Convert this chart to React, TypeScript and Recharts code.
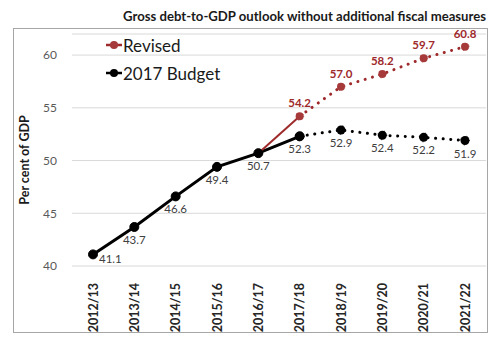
import React from 'react';
import { LineChart, Line, XAxis, YAxis, CartesianGrid, Legend, LabelList } from 'recharts';

const categories = ['2012/13', '2013/14', '2014/15', '2015/16', '2016/17', '2017/18', '2018/19', '2019/20', '2020/21', '2021/22'];
const budget = [41.1, 43.7, 46.6, 49.4, 50.7, 52.3, 52.9, 52.4, 52.2, 51.9];
const revised: (number | null)[] = [null, null, null, null, 50.7, 54.2, 57.0, 58.2, 59.7, 60.8];
const yTicks = [40, 45, 50, 55, 60];
const lastActual = 4; // 2016/17
const lastSolid = 5; // 2017/18

const RED = '#9E2A2B';
const RED_DOT = '#A63A3A';
const FONT = 'Lato, "Open Sans", sans-serif';

const data = categories.map((cat, i) => ({
  cat,
  bSolid: i <= lastSolid ? budget[i] : null,
  bDot: i >= lastSolid ? budget[i] : null,
  rSolid: i >= lastActual && i <= lastSolid ? revised[i] : null,
  rDot: i >= lastSolid ? revised[i] : null,
}));

const budgetLabel = (skip: number) => (props: any) => {
  const { x, y, value, index } = props;
  if (value == null || index === skip) return null;
  const first = index === 0;
  return (
    <text
      x={first ? x + 6 : x}
      y={first ? y + 9 : y + 17}
      textAnchor={first ? 'start' : 'middle'}
      fontSize={11.5}
      fontFamily={FONT}
      fill="#404040"
    >
      {Number(value).toFixed(1)}
    </text>
  );
};

const revisedLabel = (props: any) => {
  const { x, y, value } = props;
  if (value == null) return null;
  return (
    <text x={x} y={y - 9} textAnchor="middle" fontSize={11.5} fontWeight="bold" fontFamily={FONT} fill={RED}>
      {Number(value).toFixed(1)}
    </text>
  );
};

const XTick = (props: any) => {
  const { x, y, payload } = props;
  return (
    <text
      x={x}
      y={y}
      transform={`rotate(-90, ${x}, ${y})`}
      textAnchor="end"
      dominantBaseline="central"
      dx={-9}
      fontSize={12.5}
      fontWeight="bold"
      fontFamily={FONT}
      fill="#262626"
    >
      {payload.value}
    </text>
  );
};

const LegendContent = () => {
  const items = [
    { name: 'Revised', color: RED, dot: RED_DOT },
    { name: '2017 Budget', color: '#000', dot: '#000' },
  ];
  return (
    <div style={{ fontFamily: FONT }}>
      {items.map((it) => (
        <div key={it.name} style={{ display: 'flex', alignItems: 'center', height: 28 }}>
          <svg width={16} height={10} style={{ marginRight: 1 }}>
            <line x1={0} y1={5} x2={16} y2={5} stroke={it.color} strokeWidth={2.5} />
            <circle cx={8} cy={5} r={4} fill={it.dot} />
          </svg>
          <span style={{ fontSize: 17, color: '#1a1a1a' }}>{it.name}</span>
        </div>
      ))}
    </div>
  );
};

export default function App() {
  return (
    <div style={{ position: 'absolute', left: 0, top: 0, width: 500, height: 339, background: '#fff' }}>
      <div
        style={{
          position: 'absolute',
          left: 13,
          top: 28,
          width: 475,
          height: 305,
          border: '1px solid #A6A6A6',
          boxSizing: 'border-box',
        }}
      />
      <LineChart width={500} height={339} data={data} margin={{ top: 34, right: 14, bottom: 8, left: 0 }}>
        <text x={486} y={21} textAnchor="end" fontSize={12.5} fontWeight="bold" fontFamily={FONT} fill="#1a1a1a" textLength={363} lengthAdjust="spacingAndGlyphs">
          Gross debt-to-GDP outlook without additional fiscal measures
        </text>
        <CartesianGrid vertical={false} stroke="#D9D9D9" strokeWidth={1} />
        <XAxis dataKey="cat" interval={0} height={65} tick={<XTick />} tickLine={false} axisLine={false} padding={{ left: 21, right: 21 }} />
        <YAxis
          domain={[40, 62]}
          ticks={yTicks}
          width={72}
          tickLine={false}
          axisLine={false}
          tickSize={0}
          tickMargin={15}
          tick={{ fontSize: 12, fill: '#595959', fontFamily: FONT }}
          label={(p: any) => (
            <text x={24} y={160} transform="rotate(-90, 24, 160)" textAnchor="middle" dominantBaseline="central" fontSize={12.5} fontWeight="bold" fontFamily={FONT} fill="#1a1a1a">
              Per cent of GDP
            </text>
          )}
        />
        <Legend
          content={<LegendContent />}
          layout="vertical"
          verticalAlign="middle"
          align="center"
          wrapperStyle={{ position: 'absolute', left: 106, top: 31, width: 160 }}
        />
        <Line
          dataKey="bDot"
          stroke="#000"
          strokeWidth={3}
          strokeDasharray="0.1 7.5"
          strokeLinecap="round"
          dot={{ r: 4.5, fill: '#000', stroke: '#000', strokeWidth: 1 }}
          activeDot={false}
          isAnimationActive={false}
          connectNulls={false}
          legendType="none"
        >
          <LabelList dataKey="bDot" content={budgetLabel(lastSolid)} />
        </Line>
        <Line
          dataKey="bSolid"
          stroke="#000"
          strokeWidth={3}
          dot={{ r: 4.5, fill: '#000', stroke: '#000', strokeWidth: 1 }}
          activeDot={false}
          isAnimationActive={false}
          legendType="none"
        >
          <LabelList dataKey="bSolid" content={budgetLabel(-1)} />
        </Line>
        <Line
          dataKey="rSolid"
          stroke={RED}
          strokeWidth={2}
          dot={false}
          activeDot={false}
          isAnimationActive={false}
          legendType="none"
        />
        <Line
          dataKey="rDot"
          stroke={RED}
          strokeWidth={3}
          strokeDasharray="0.1 7.5"
          strokeLinecap="round"
          dot={{ r: 4, fill: RED_DOT, stroke: RED_DOT, strokeWidth: 1 }}
          activeDot={false}
          isAnimationActive={false}
          legendType="none"
        >
          <LabelList dataKey="rDot" content={revisedLabel} />
        </Line>
      </LineChart>
    </div>
  );
}
